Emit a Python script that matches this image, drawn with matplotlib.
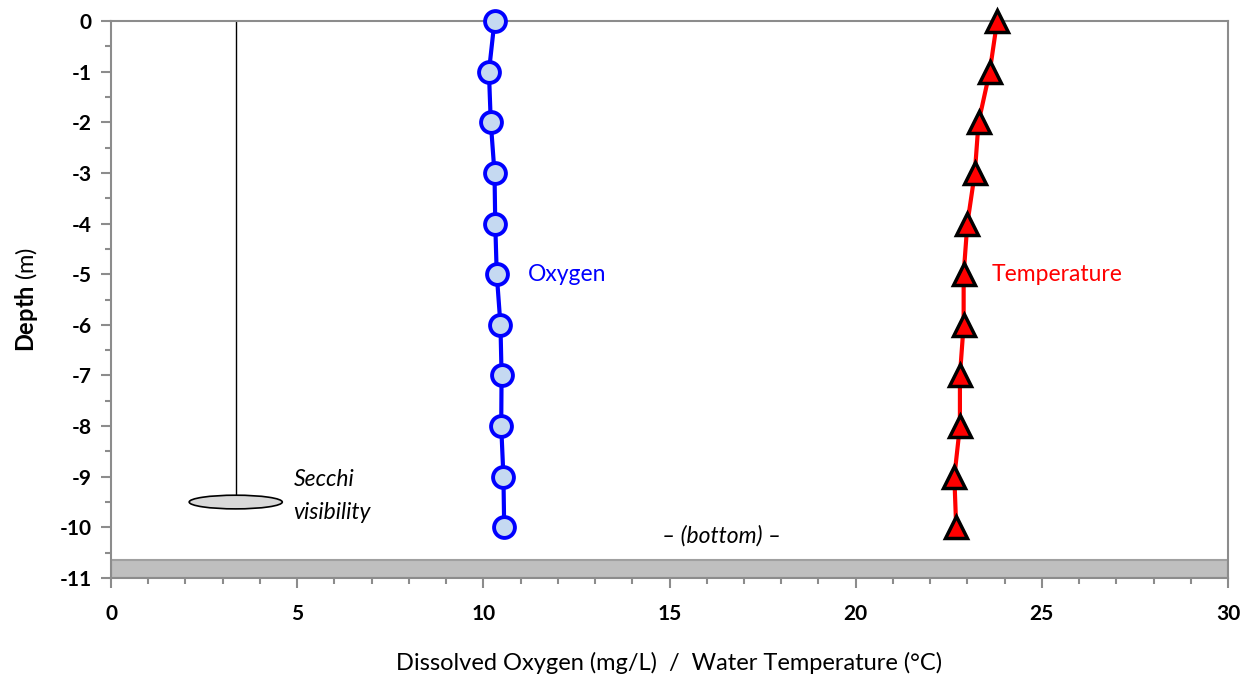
import numpy as np
import matplotlib.pyplot as plt
from matplotlib.patches import Ellipse, Rectangle
from matplotlib.ticker import MultipleLocator

plt.rcParams['font.family'] = ['Lato', 'DejaVu Sans']
plt.rcParams['axes.unicode_minus'] = False
plt.rcParams['mathtext.fontset'] = 'custom'
plt.rcParams['mathtext.bf'] = 'Lato:bold'
plt.rcParams['mathtext.rm'] = 'Lato'

# profile data
depth = [0, -1, -2, -3, -4, -5, -6, -7, -8, -9, -10]
oxygen = [10.3, 10.15, 10.2, 10.3, 10.32, 10.36, 10.46, 10.49, 10.48, 10.54, 10.56]
temperature = [23.8, 23.6, 23.3, 23.2, 23.0, 22.9, 22.9, 22.8, 22.8, 22.65, 22.7]

secchi_x = 3.35
secchi_depth = -9.5
bottom_depth = -10.65

fig = plt.figure(figsize=(12.5, 6.78), dpi=100)
ax = fig.add_axes([0.0888, 0.1475, 0.8936, 0.8215])

spine_col = '#8c8c8c'

# lake bottom band
ax.add_patch(Rectangle((0, -11), 30, bottom_depth + 11, facecolor='#bfbfbf',
                       edgecolor='#a0a0a0', lw=1.5, zorder=1))

# secchi disk
ax.plot([secchi_x, secchi_x], [0, secchi_depth], color='black', lw=1, zorder=2)
ax.add_patch(Ellipse((secchi_x, secchi_depth), 2.5, 0.27, facecolor='#d9d9d9',
                     edgecolor='black', lw=1.2, zorder=2))
ax.text(4.9, -9.05, 'Secchi', style='italic', fontsize=16.5, va='center', ha='left')
ax.text(4.9, -9.7, 'visibility', style='italic', fontsize=16.5, va='center', ha='left')

ax.plot(oxygen, depth, color='#0000ff', lw=3, marker='o', markersize=15,
        markerfacecolor='#c5d9f1', markeredgecolor='#0000ff', markeredgewidth=2.8,
        zorder=4, clip_on=False)
ax.plot(temperature, depth, color='#ff0000', lw=3, marker='^', markersize=16,
        markerfacecolor='#ff0000', markeredgecolor='black', markeredgewidth=2.5,
        zorder=4, clip_on=False)

ax.text(11.2, -5, 'Oxygen', color='#0000ff', fontsize=16.5, va='center', ha='left')
ax.text(23.65, -5, 'Temperature', color='#ff0000', fontsize=16.5, va='center', ha='left')
ax.text(16.4, -10.17, '\u2013 (bottom) \u2013', style='italic', fontsize=16.5,
        va='center', ha='center')

ax.set_xlim(0, 30)
ax.set_ylim(-11, 0)
ax.xaxis.set_major_locator(MultipleLocator(5))
ax.xaxis.set_minor_locator(MultipleLocator(1))
ax.yaxis.set_major_locator(MultipleLocator(1))
ax.yaxis.set_minor_locator(MultipleLocator(0.5))

for s in ax.spines.values():
    s.set_color(spine_col)
    s.set_linewidth(1.5)

ax.tick_params(which='both', direction='out', color=spine_col, width=1.5)
ax.tick_params(which='major', length=7, labelsize=15, pad=8)
ax.tick_params(which='minor', length=4)
for lab in ax.get_xticklabels() + ax.get_yticklabels():
    lab.set_fontweight('bold')
ax.tick_params(axis='x', pad=12)
ax.tick_params(axis='y', pad=7)

ax.set_xlabel('Dissolved Oxygen (mg/L)  /  Water Temperature (\u00b0C)', fontsize=17,
              labelpad=20)
ax.set_ylabel(r'$\mathbf{Depth}$ (m)', fontsize=17, labelpad=14)

fig.savefig('out.png', dpi=100)
